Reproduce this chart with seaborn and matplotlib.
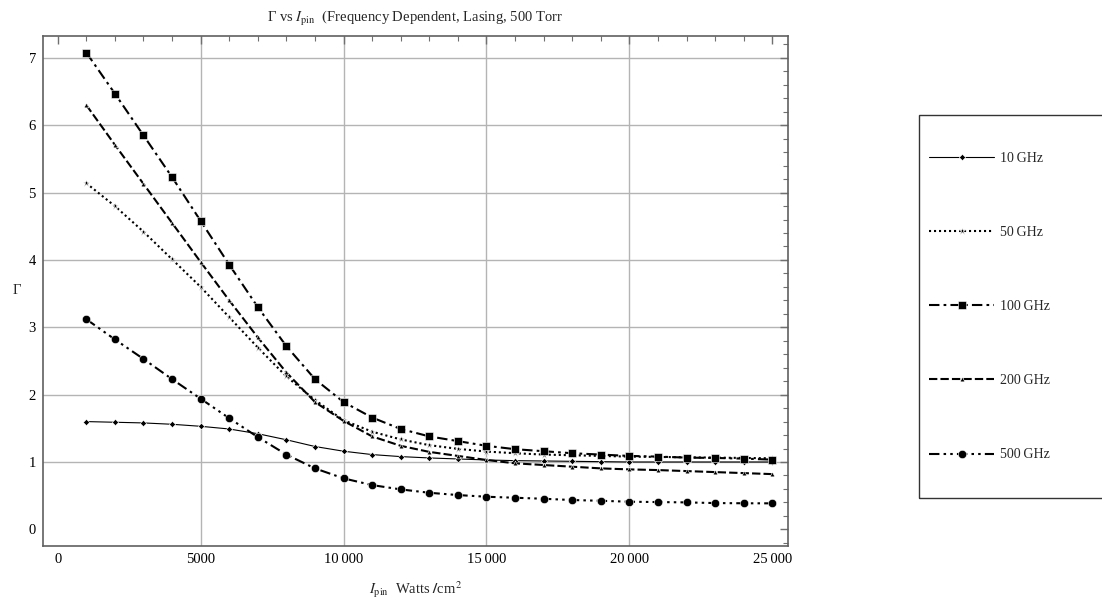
"""Gamma vs I_pin, frequency dependent, lasing at 500 Torr."""
import matplotlib

matplotlib.use("Agg")

import matplotlib.pyplot as plt
import matplotlib.patches as mpatches
from matplotlib.ticker import MultipleLocator, FixedLocator, FixedFormatter
import pandas as pd
import seaborn as sns

# pump intensity (Watts/cm^2)
i_pin = [1000, 2000, 3000, 4000, 5000, 6000, 7000, 8000, 9000, 10000,
         11000, 12000, 13000, 14000, 15000, 16000, 17000, 18000, 19000, 20000,
         21000, 22000, 23000, 24000, 25000]

gamma_10 = [1.60, 1.59, 1.58, 1.56, 1.53, 1.49, 1.42, 1.33, 1.23, 1.16,
            1.11, 1.08, 1.06, 1.045, 1.03, 1.02, 1.015, 1.01, 1.005, 1.0,
            1.0, 1.0, 1.0, 1.0, 1.0]
gamma_50 = [5.14, 4.80, 4.42, 4.01, 3.60, 3.15, 2.70, 2.27, 1.92, 1.62,
            1.45, 1.335, 1.25, 1.195, 1.155, 1.13, 1.11, 1.10, 1.09, 1.08,
            1.075, 1.07, 1.065, 1.06, 1.055]
gamma_100 = [7.08, 6.47, 5.85, 5.23, 4.58, 3.93, 3.30, 2.72, 2.23, 1.89,
             1.66, 1.49, 1.38, 1.31, 1.24, 1.19, 1.16, 1.13, 1.11, 1.09,
             1.08, 1.065, 1.06, 1.05, 1.035]
gamma_200 = [6.30, 5.71, 5.13, 4.55, 3.97, 3.40, 2.85, 2.33, 1.89, 1.61,
             1.38, 1.24, 1.15, 1.09, 1.03, 0.98, 0.955, 0.93, 0.905, 0.89,
             0.88, 0.865, 0.85, 0.835, 0.82]
gamma_500 = [3.12, 2.82, 2.53, 2.23, 1.94, 1.65, 1.37, 1.11, 0.905, 0.757,
             0.657, 0.593, 0.543, 0.509, 0.484, 0.469, 0.454, 0.435, 0.424, 0.41,
             0.405, 0.40, 0.39, 0.387, 0.386]

freq_labels = ["10\u2009GHz", "50\u2009GHz", "100\u2009GHz", "200\u2009GHz", "500\u2009GHz"]
x_tick_values = [0, 5000, 10000, 15000, 20000, 25000]
x_tick_labels = ["0", "5000", "10\u2009000", "15\u2009000", "20\u2009000", "25\u2009000"]

series = [gamma_10, gamma_50, gamma_100, gamma_200, gamma_500]

# style per series: (dashes, marker, markersize, linewidth)
styles = [
    ("", "D", 3.2, 0.8),
    ((1, 1.4), "*", 4.8, 1.5),
    ((5, 2, 1.3, 2), "s", 6.0, 1.5),
    ((4, 1.5), "^", 3.4, 1.5),
    ((5, 2, 1.2, 2, 1.2, 2), "o", 6.0, 1.5),
]

sns.set_theme(style="white")
plt.rcParams["font.family"] = ["Liberation Serif", "DejaVu Serif"]
plt.rcParams["mathtext.fontset"] = "stix"

W, H = 1102, 602
fig = plt.figure(figsize=(W / 100, H / 100), dpi=100)
ax = fig.add_axes([42.7 / W, 1 - 545.7 / H, (788.3 - 42.7) / W, (545.7 - 35.7) / H])

for label, vals, (dash, mk, ms, lw) in zip(freq_labels, series, styles):
    df = pd.DataFrame({"I_pin": i_pin, "Gamma": vals})
    line_kw = dict(color="black", marker=mk, markersize=ms, linewidth=lw,
                   markeredgewidth=0.4, label=label, ax=ax)
    sns.lineplot(data=df, x="I_pin", y="Gamma", **line_kw)
    ln = ax.lines[-1]
    if dash:
        ln.set_dashes(dash)

ax.set_xlim(-525, 25560)
ax.set_ylim(-0.243, 7.33)

ax.xaxis.set_major_locator(FixedLocator(x_tick_values))
ax.xaxis.set_major_formatter(FixedFormatter(x_tick_labels))
ax.xaxis.set_minor_locator(MultipleLocator(1000))
ax.yaxis.set_major_locator(MultipleLocator(1))
ax.yaxis.set_minor_locator(MultipleLocator(0.2))

ax.tick_params(which="both", direction="in", top=True, right=True,
               color="#707070", labelsize=10.5, labelcolor="black", pad=5)
ax.tick_params(which="major", length=6, width=1)
ax.tick_params(which="minor", length=3.5, width=0.8)

for s in ax.spines.values():
    s.set_color("#606060")
    s.set_linewidth(1.2)

# grid lines at interior ticks
for gx in [5000, 10000, 15000, 20000]:
    ax.axvline(gx, color="#b4b4b4", lw=1, zorder=0)
for gy in [1, 2, 3, 4, 5, 6, 7]:
    ax.axhline(gy, color="#b4b4b4", lw=1, zorder=0)

ax.set_title(r"Γ vs $I_{\mathrm{pin}}$  $\mathbf{(}$Frequency Dependent, Lasing, 500 Torr",
             fontsize=10.5, pad=10)
ax.set_xlabel(r"$I_{\mathrm{pin}}$  Watts $\mathbf{/}$cm$^2$", fontsize=10.5, labelpad=10)
ax.set_ylabel("Γ", fontsize=10.5, rotation=0, labelpad=8, va="center")

handles, labels = ax.get_legend_handles_labels()
ax.legend(handles, labels, loc="upper left",
          bbox_to_anchor=(929 / W, 1 - 152 / H), bbox_transform=fig.transFigure,
          frameon=False, borderpad=0, borderaxespad=0, labelspacing=4.4,
          handlelength=4.7, handletextpad=0.4, fontsize=10)

box = mpatches.Rectangle((919.3 / W, 1 - 497.7 / H), (W + 10 - 919.3) / W,
                         (497.7 - 115) / H, transform=fig.transFigure,
                         fill=False, edgecolor="#333333", lw=1, clip_on=False)
fig.add_artist(box)

fig.savefig("out.png", dpi=100)
plt.close(fig)
